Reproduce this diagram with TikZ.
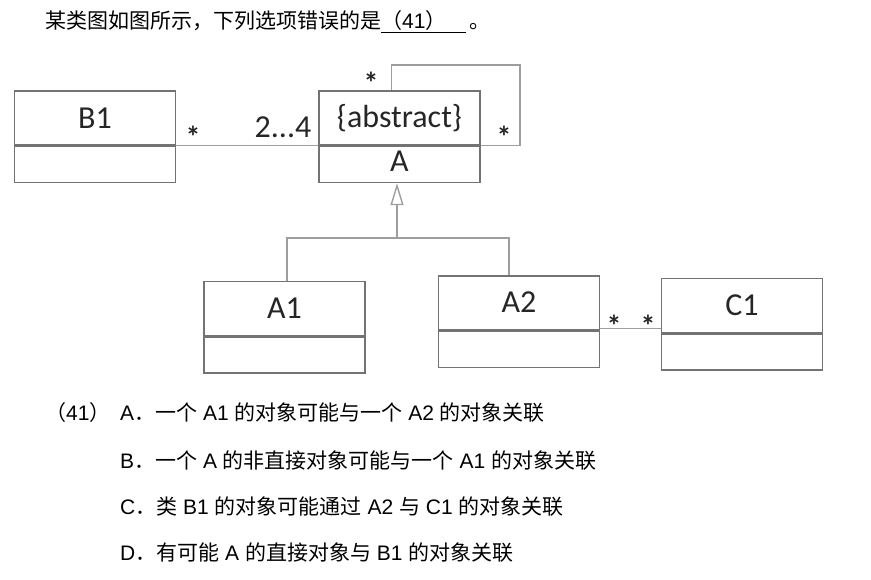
\documentclass[tikz,border=0pt]{standalone}
\usepackage{fontspec}
\setmainfont{Liberation Sans}
\newfontfamily\cjk{Noto Sans CJK SC}
\newfontfamily\uml{Carlito}
\usetikzlibrary{arrows.meta,positioning}
\definecolor{boxgray}{gray}{0.45}
\definecolor{linegray}{gray}{0.62}
\definecolor{umltext}{gray}{0.15}
\newcommand{\zhtext}[1]{{\cjk #1}}

\begin{document}
\begin{tikzpicture}[x=1pt, y=-1pt,
    classtop/.style={draw=boxgray, line width=1.5pt, minimum width=161pt,
      minimum height=54pt, inner sep=0pt, text=umltext,
      font=\uml\fontsize{32}{32}\selectfont},
    classbot/.style={classtop, minimum height=36pt},
    link/.style={draw=linegray, line width=1.4pt},
    mult/.style={inner sep=0pt, text=umltext, font=\uml\bfseries\fontsize{30}{30}\selectfont},
    line/.style={anchor=west, inner sep=0pt, font=\fontsize{21}{25}\selectfont}]
    \useasboundingbox (0,0) rectangle (871,580);

    % question
    \node[line] (q) at (45,22) {\zhtext{某类图如图所示，下列选项错误的是}\underline{\zhtext{（}41\zhtext{）}\hspace{19pt}}\,\zhtext{。}};

    % classes
    \node[classtop] (B1) at (95,118) {B1};
    \node[classbot, anchor=north] (B1b) at (B1.south) {};
    \node[classtop] (A) at (399.5,118) {\raisebox{2pt}{\{abstract\}}};
    \node[classbot, anchor=north] (Ab) at (A.south) {\raisebox{6pt}{A}};
    \node[classtop] (A1) at (284.5,308.5) {A1};
    \node[classbot, anchor=north] (A1b) at (A1.south) {};
    \node[classtop] (A2) at (519,303) {\raisebox{2pt}{A2}};
    \node[classbot, anchor=north] (A2b) at (A2.south) {};
    \node[classtop] (C1) at (742,305.5) {C1};
    \node[classbot, anchor=north] (C1b) at (C1.south) {};

    % associations
    \draw[link] (B1.south east) -- (A.south west);
    \node[mult] at (193,137) {*};
    \node[mult, font=\uml\fontsize{32}{32}\selectfont] at (283,127) {2...4};

    \coordinate (loop) at (520,65);
    \draw[link] ([xshift=-8pt]A.north) |- (loop) |- (A.south east);
    \node[mult] at (371,83) {*};
    \node[mult] at (504,137) {*};

    \draw[link] (A2.south east) ++(0,-2) coordinate (a2link) -- (a2link -| C1.west);
    \node[mult] at (614,326) {*};
    \node[mult] at (648,326) {*};

    % generalization
    \coordinate (fork) at (397,238);
    \draw[link, -{Triangle[open, length=22pt, width=13pt]}] (fork) -- (Ab.south -| fork);
    \draw[link] (A1.north -| 287,0) |- (fork) -| ([xshift=-10pt]A2.north);

    % options
    \node[line] (o1) at (45,413) {\zhtext{（}41\zhtext{）}};
    \node[line] (oa) at (120,413) {A\zhtext{．一个} A1 \zhtext{的对象可能与一个} A2 \zhtext{的对象关联}};
    \node[line] (ob) at (120,461) {B\zhtext{．一个} A \zhtext{的非直接对象可能与一个} A1 \zhtext{的对象关联}};
    \node[line] (oc) at (120,507) {C\zhtext{．类} B1 \zhtext{的对象可能通过} A2 \zhtext{与} C1 \zhtext{的对象关联}};
    \node[line] (od) at (120,553) {D\zhtext{．有可能} A \zhtext{的直接对象与} B1 \zhtext{的对象关联}};
\end{tikzpicture}
\end{document}
